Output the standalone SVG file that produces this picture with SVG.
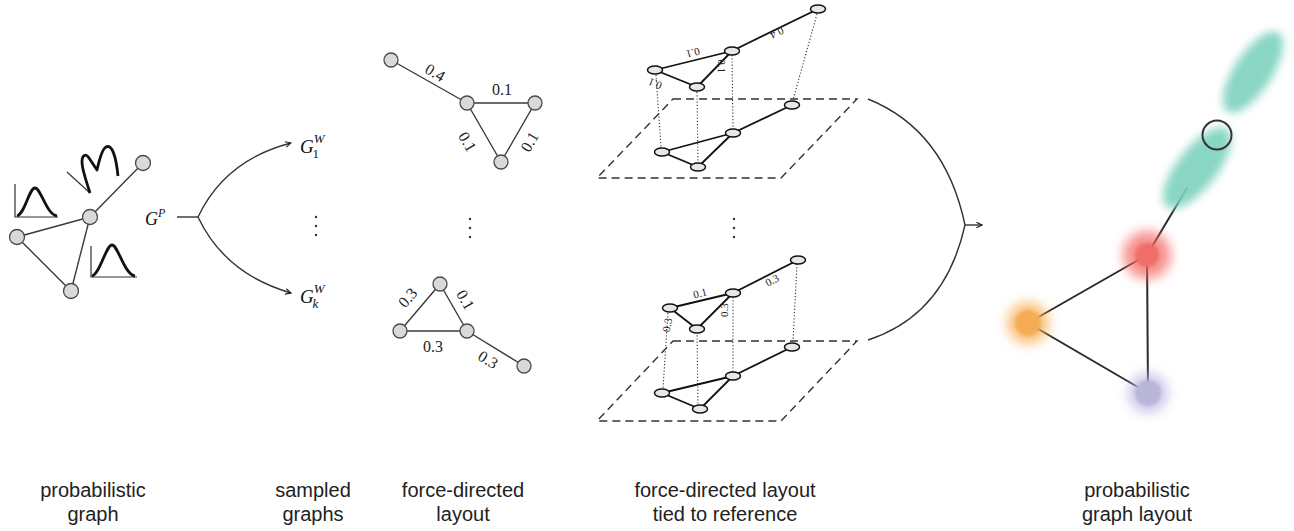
<svg xmlns="http://www.w3.org/2000/svg" width="1294" height="531" viewBox="0 0 1294 531">
<defs>
<style>
.edge{stroke:#3a3a3a;stroke-width:1.4;fill:none}
.node{fill:#d9d9d9;stroke:#4a4a4a;stroke-width:1.3}
.enode{fill:#e8e8e8;stroke:#111;stroke-width:1.5}
.e3{stroke:#111;stroke-width:1.8;fill:none}
.dash{stroke:#333;stroke-width:1.4;stroke-dasharray:8 5;fill:none}
.dot{stroke:#333;stroke-width:1.1;stroke-dasharray:1.2 2;fill:none}
.conn{stroke:#333;stroke-width:1.4;fill:none}
.axis{stroke:#333;stroke-width:1.2;fill:none}
.dist{stroke:#111;stroke-width:2.8;fill:none;stroke-linejoin:round}
.lbl{font-family:"Liberation Sans",Arial,sans-serif;font-size:20px;fill:#222;text-anchor:middle}
.num{font-family:"Liberation Serif","Times New Roman",serif;font-size:16px;fill:#222;text-anchor:middle}
.num3{font-family:"Liberation Serif","Times New Roman",serif;font-size:11px;fill:#222;text-anchor:middle}
.math{font-family:"Liberation Serif","Times New Roman",serif;font-style:italic;fill:#111}
.rglow{filter:url(#glow)}
.rsoft{filter:url(#soft)}
</style>
<marker id="arrow" viewBox="0 0 10 10" refX="9" refY="5" markerWidth="7" markerHeight="7" markerUnits="userSpaceOnUse" orient="auto">
<path d="M1,1 L9,5 L1,9" fill="none" stroke="#222" stroke-width="1.6"/>
</marker>
<filter id="glow" x="-60%" y="-60%" width="220%" height="220%"><feGaussianBlur stdDeviation="6"/></filter>
<filter id="soft" x="-40%" y="-40%" width="180%" height="180%"><feGaussianBlur stdDeviation="1.5"/></filter>
<filter id="tblur" x="-50%" y="-50%" width="200%" height="200%"><feGaussianBlur stdDeviation="4.5"/></filter>
</defs>
<rect width="1294" height="531" fill="#fff"/>

<g id="connectors">
  <!-- probabilistic graph edges -->
  <line class="edge" x1="143" y1="163" x2="90" y2="217"/>
  <line class="edge" x1="90" y1="217" x2="17" y2="237"/>
  <line class="edge" x1="90" y1="217" x2="71" y2="291"/>
  <line class="edge" x1="17" y1="237" x2="71" y2="291"/>
  <!-- sampling branch -->
  <path class="conn" d="M177,217 H198"/>
  <path class="conn" d="M198,217 Q225,160 291,143" marker-end="url(#arrow)"/>
  <path class="conn" d="M198,217 Q225,274 291,293" marker-end="url(#arrow)"/>
  <!-- force-directed top edges -->
  <line class="edge" x1="391" y1="60" x2="467" y2="103"/>
  <line class="edge" x1="467" y1="103" x2="535" y2="103"/>
  <line class="edge" x1="467" y1="103" x2="501" y2="162"/>
  <line class="edge" x1="535" y1="103" x2="501" y2="162"/>
  <!-- force-directed bottom edges -->
  <line class="edge" x1="440" y1="284" x2="400" y2="331"/>
  <line class="edge" x1="440" y1="284" x2="467" y2="331"/>
  <line class="edge" x1="400" y1="331" x2="467" y2="331"/>
  <line class="edge" x1="467" y1="331" x2="524" y2="366"/>
  <!-- 3D top: planes and projection lines -->
  <path class="dash" d="M673,99 H857 L781,178 H597 Z"/>
  <line class="dot" x1="817" y1="14" x2="793" y2="100"/>
  <line class="dot" x1="732" y1="55" x2="733" y2="129"/>
  <line class="dot" x1="656" y1="75" x2="661" y2="147"/>
  <line class="dot" x1="697" y1="92" x2="698" y2="163"/>
  <line class="e3" x1="792" y1="105" x2="733" y2="133"/>
  <line class="e3" x1="733" y1="133" x2="662" y2="152"/>
  <line class="e3" x1="733" y1="133" x2="698" y2="167"/>
  <line class="e3" x1="662" y1="152" x2="698" y2="167"/>
  <line class="e3" x1="818" y1="9" x2="732" y2="51"/>
  <line class="e3" x1="732" y1="51" x2="655" y2="70"/>
  <line class="e3" x1="732" y1="51" x2="697" y2="87"/>
  <line class="e3" x1="655" y1="70" x2="697" y2="87"/>
  <!-- 3D bottom -->
  <path class="dash" d="M673,341 H857 L781,421 H597 Z"/>
  <line class="dot" x1="797" y1="264" x2="793" y2="341"/>
  <line class="dot" x1="733" y1="297" x2="733" y2="372"/>
  <line class="dot" x1="668" y1="313" x2="663" y2="388"/>
  <line class="dot" x1="697" y1="332" x2="698" y2="405"/>
  <line class="e3" x1="792" y1="347" x2="733" y2="376"/>
  <line class="e3" x1="733" y1="376" x2="662" y2="393"/>
  <line class="e3" x1="733" y1="376" x2="700" y2="409"/>
  <line class="e3" x1="662" y1="393" x2="700" y2="409"/>
  <line class="e3" x1="798" y1="260" x2="733" y2="293"/>
  <line class="e3" x1="733" y1="293" x2="670" y2="308"/>
  <line class="e3" x1="733" y1="293" x2="697" y2="329"/>
  <line class="e3" x1="670" y1="308" x2="697" y2="329"/>
  <!-- merge bracket -->
  <path class="conn" d="M868,99 Q945,130 965,225"/>
  <path class="conn" d="M868,340 Q945,315 965,225"/>
  <path class="conn" d="M965,225 H982" marker-end="url(#arrow)"/>
  <!-- probabilistic layout edges -->
  <line stroke="#2b2b2b" stroke-width="2" x1="1147" y1="255" x2="1187" y2="188"/>
  <line stroke="#2b2b2b" stroke-width="2" x1="1147" y1="255" x2="1028" y2="323"/>
  <line stroke="#2b2b2b" stroke-width="2" x1="1147" y1="255" x2="1148" y2="393"/>
  <line stroke="#2b2b2b" stroke-width="2" x1="1028" y1="323" x2="1148" y2="393"/>
</g>

<!-- probabilistic graph -->
<g id="pg-n1"><circle class="node" cx="143" cy="163" r="7.5"/></g>
<g id="pg-n2"><circle class="node" cx="90" cy="217" r="7.5"/></g>
<g id="pg-n3"><circle class="node" cx="17" cy="237" r="7.5"/></g>
<g id="pg-n4"><circle class="node" cx="71" cy="291" r="7.5"/></g>
<g id="pg-dist1">
  <path class="axis" d="M15,184 V217 H58"/>
  <path class="dist" d="M17,216 C25,214 29,188 35,188 C41,188 46,214 57,216"/>
</g>
<g id="pg-dist2">
  <path class="axis" d="M91,246 V277 H137"/>
  <path class="dist" d="M92,276 C100,274 106,245 112,245 C118,245 124,274 135,276"/>
</g>
<g id="pg-dist3">
  <path class="axis" d="M67,172 L90,193"/>
  <path class="dist" d="M90,193 C87,183 82,170 82,162 C82,155 86,153 89,158 L97,170 C99,161 102,149 106,147 C112,144 116,156 118,176"/>
</g>
<g id="gp-label"><text class="math" x="145" y="225" font-size="18">G<tspan font-size="12" dy="-8">P</tspan></text></g>

<!-- sampled graphs -->
<g id="g1-label"><text class="math" x="300" y="153" font-size="19">G<tspan font-size="13" dy="-10">W</tspan><tspan font-size="13" font-style="normal" dx="-12" dy="15">1</tspan></text></g>
<g id="gk-label"><text class="math" x="300" y="303" font-size="19">G<tspan font-size="13" dy="-10">W</tspan><tspan font-size="13" dx="-12" dy="15">k</tspan></text></g>
<g id="vdots1" fill="#333"><circle cx="316" cy="217" r="1.2"/><circle cx="316" cy="226" r="1.2"/><circle cx="316" cy="235" r="1.2"/></g>

<!-- force-directed layout top -->
<g id="fd1-a"><circle class="node" cx="391" cy="60" r="7"/></g>
<g id="fd1-b"><circle class="node" cx="467" cy="103" r="7"/></g>
<g id="fd1-c"><circle class="node" cx="535" cy="103" r="7"/></g>
<g id="fd1-d"><circle class="node" cx="501" cy="162" r="7"/></g>
<g id="fd1-labels">
  <text class="num" transform="translate(435,73) rotate(30)" y="5">0.4</text>
  <text class="num" transform="translate(502,90)" y="5">0.1</text>
  <text class="num" transform="translate(467,142) rotate(60)" y="5">0.1</text>
  <text class="num" transform="translate(530,142) rotate(-60)" y="5">0.1</text>
</g>
<g id="vdots2" fill="#333"><circle cx="470" cy="219" r="1.2"/><circle cx="470" cy="228" r="1.2"/><circle cx="470" cy="237" r="1.2"/></g>

<!-- force-directed layout bottom -->
<g id="fd2-a"><circle class="node" cx="440" cy="284" r="7"/></g>
<g id="fd2-b"><circle class="node" cx="400" cy="331" r="7"/></g>
<g id="fd2-c"><circle class="node" cx="467" cy="331" r="7"/></g>
<g id="fd2-d"><circle class="node" cx="524" cy="366" r="7"/></g>
<g id="fd2-labels">
  <text class="num" transform="translate(408,298) rotate(-49)" y="5">0.3</text>
  <text class="num" transform="translate(465,300) rotate(60)" y="5">0.1</text>
  <text class="num" transform="translate(433,347)" y="5">0.3</text>
  <text class="num" transform="translate(488,360) rotate(32)" y="5">0.3</text>
</g>

<!-- 3D top layer nodes -->
<g id="t3-l1"><ellipse class="enode" cx="792" cy="105" rx="7.5" ry="4"/></g>
<g id="t3-l2"><ellipse class="enode" cx="733" cy="133" rx="7.5" ry="4"/></g>
<g id="t3-l3"><ellipse class="enode" cx="662" cy="152" rx="7.5" ry="4"/></g>
<g id="t3-l4"><ellipse class="enode" cx="698" cy="167" rx="7.5" ry="4"/></g>
<g id="t3-u1"><ellipse class="enode" cx="818" cy="9" rx="7.5" ry="4"/></g>
<g id="t3-u2"><ellipse class="enode" cx="732" cy="51" rx="7.5" ry="4"/></g>
<g id="t3-u3"><ellipse class="enode" cx="655" cy="70" rx="7.5" ry="4"/></g>
<g id="t3-u4"><ellipse class="enode" cx="697" cy="87" rx="7.5" ry="4"/></g>
<g id="t3-labels">
  <text class="num3" transform="translate(777,33) rotate(154)" y="4">0.4</text>
  <text class="num3" transform="translate(693,53) rotate(166)" y="4">0.1</text>
  <text class="num3" transform="translate(722,66) rotate(90)" y="4">0.1</text>
  <text class="num3" transform="translate(655,84) rotate(202)" y="4">0.1</text>
</g>
<g id="vdots3" fill="#333"><circle cx="734" cy="219" r="1.2"/><circle cx="734" cy="228" r="1.2"/><circle cx="734" cy="237" r="1.2"/></g>

<!-- 3D bottom layer nodes -->
<g id="b3-l1"><ellipse class="enode" cx="792" cy="347" rx="7.5" ry="4"/></g>
<g id="b3-l2"><ellipse class="enode" cx="733" cy="376" rx="7.5" ry="4"/></g>
<g id="b3-l3"><ellipse class="enode" cx="662" cy="393" rx="7.5" ry="4"/></g>
<g id="b3-l4"><ellipse class="enode" cx="700" cy="409" rx="7.5" ry="4"/></g>
<g id="b3-u1"><ellipse class="enode" cx="798" cy="260" rx="7.5" ry="4"/></g>
<g id="b3-u2"><ellipse class="enode" cx="733" cy="293" rx="7.5" ry="4"/></g>
<g id="b3-u3"><ellipse class="enode" cx="670" cy="308" rx="7.5" ry="4"/></g>
<g id="b3-u4"><ellipse class="enode" cx="697" cy="329" rx="7.5" ry="4"/></g>
<g id="b3-labels">
  <text class="num3" transform="translate(772,280) rotate(-27)" y="4">0.3</text>
  <text class="num3" transform="translate(700,293) rotate(-14)" y="4">0.1</text>
  <text class="num3" transform="translate(724,310) rotate(-90)" y="4">0.3</text>
  <text class="num3" transform="translate(667,325) rotate(-80)" y="4">0.3</text>
</g>

<!-- probabilistic graph layout -->
<g id="pl-teal1"><ellipse cx="1253" cy="72" rx="47" ry="19" fill="#7dd2be" opacity="0.9" filter="url(#tblur)" transform="rotate(-57 1253 72)"/></g>
<g id="pl-teal2"><ellipse cx="1197" cy="168" rx="49" ry="20" fill="#7dd2be" opacity="0.9" filter="url(#tblur)" transform="rotate(-52 1197 168)"/></g>
<g id="pl-ring"><circle cx="1217" cy="135" r="14.5" fill="none" stroke="#333" stroke-width="2"/></g>
<g id="pl-red">
  <circle class="rglow" cx="1147" cy="255" r="24" fill="#f3625c" opacity="0.7"/>
  <circle class="rsoft" cx="1147" cy="255" r="12" fill="#ef6e67"/>
</g>
<g id="pl-orange">
  <circle class="rglow" cx="1028" cy="323" r="21" fill="#f7a844" opacity="0.7"/>
  <circle class="rsoft" cx="1028" cy="323" r="13" fill="#f4ad55"/>
</g>
<g id="pl-purple">
  <circle class="rglow" cx="1148" cy="393" r="20" fill="#b7b2e2" opacity="0.7"/>
  <circle class="rsoft" cx="1148" cy="393" r="13" fill="#b9b6d9"/>
</g>

<!-- captions -->
<g id="captions">
  <text class="lbl" x="93" y="497">probabilistic</text>
  <text class="lbl" x="93" y="521">graph</text>
  <text class="lbl" x="313" y="497">sampled</text>
  <text class="lbl" x="313" y="521">graphs</text>
  <text class="lbl" x="463" y="497">force-directed</text>
  <text class="lbl" x="463" y="521">layout</text>
  <text class="lbl" x="725" y="497">force-directed layout</text>
  <text class="lbl" x="725" y="521">tied to reference</text>
  <text class="lbl" x="1137" y="497">probabilistic</text>
  <text class="lbl" x="1137" y="521">graph layout</text>
</g>
</svg>
